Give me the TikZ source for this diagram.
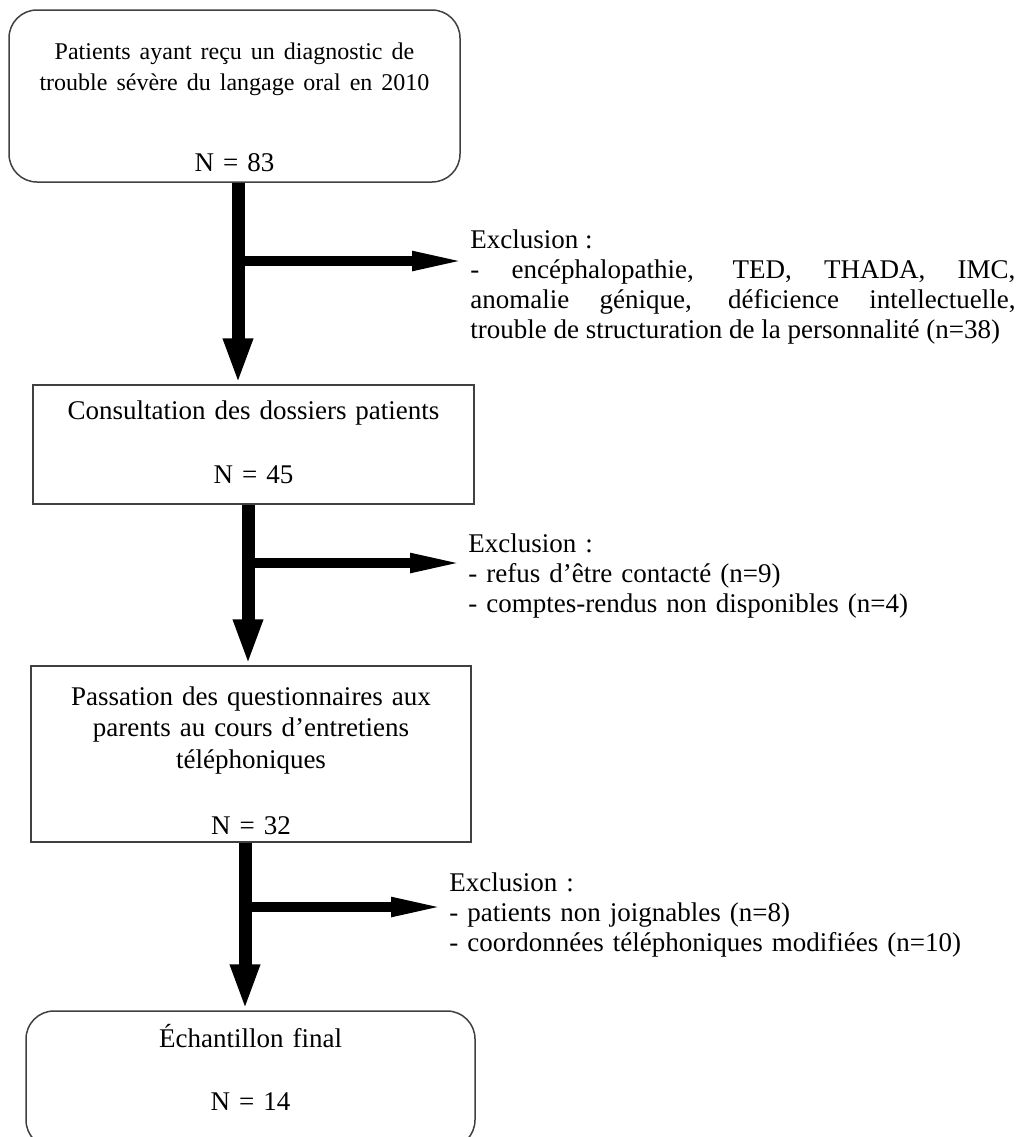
\documentclass[tikz,border=0pt]{standalone}
\usepackage{fontspec}
\setmainfont{Liberation Serif}
\usetikzlibrary{arrows.meta}

\begin{document}
\begin{tikzpicture}[x=0.5pt, y=-0.5pt,
    every node/.style={inner sep=0pt, font=\fontsize{13.5}{15.75}\selectfont},
    stagebox/.style={draw=black!75, line width=0.75pt, align=center, anchor=base},
    roundstage/.style={stagebox, rounded corners=14pt},
    exclnote/.style={anchor=base west, text width=272.5pt, font=\fontsize{13.5}{15}\selectfont},
    downflow/.style={line width=6.5pt, -{Triangle[length=23pt, width=13.5pt]}},
    sideflow/.style={line width=5pt, -{Triangle[length=29pt, width=8.5pt]}}]
    \useasboundingbox (0,0) rectangle (1020,1137);
    \node[roundstage, text width=225.5pt, text height=24.5pt, text depth=61.5pt] (patients) at (234.5,59)
        {{\fontsize{12}{15.75}\selectfont Patients ayant reçu un diagnostic de\\trouble sévère du langage oral en 2010}\\[24.75pt]N = 83};
    \node[stagebox, text width=220.5pt, text height=17pt, text depth=42.5pt] (consult) at (253.5,419)
        {Consultation des dossiers patients\\[16.25pt]N = 45};
    \node[stagebox, text width=220pt, text height=19.5pt, text depth=68.5pt] (phone) at (251,705)
        {Passation des questionnaires aux\\parents au cours d’entretiens\\téléphoniques\\[17.25pt]N = 32};
    \node[roundstage, text width=224.5pt, text height=18pt, text depth=50.5pt] (final) at (250.5,1047)
        {Échantillon final\\[15.75pt]N = 14};
    \node[exclnote, align=justify] (excl1) at (470,248)
        {\tolerance=10000\parfillskip=0pt Exclusion :\\- encéphalopathie, TED, THADA, IMC,\linebreak anomalie génique, déficience intellectuelle,\linebreak trouble de structuration de la personnalité (n=38)};
    \node[exclnote, align=left] (excl2) at (468,552)
        {Exclusion :\\- refus d’être contacté (n=9)\\- comptes-rendus non disponibles (n=4)};
    \node[exclnote, align=left] (excl3) at (449,891)
        {Exclusion :\\- patients non joignables (n=8)\\- coordonnées téléphoniques modifiées (n=10)};
    \coordinate (fork1) at (238,261);
    \coordinate (fork2) at (248,563);
    \coordinate (fork3) at (245,907);
    \draw[downflow] (patients.south -| fork1) -- (consult.north -| fork1);
    \draw[sideflow] (fork1) -- (fork1 -| excl1.west);
    \draw[downflow] (consult.south -| fork2) -- (phone.north -| fork2);
    \draw[sideflow] (fork2) -- (fork2 -| excl2.west);
    \draw[downflow] (phone.south -| fork3) -- (final.north -| fork3);
    \draw[sideflow] (fork3) -- (fork3 -| excl3.west);
\end{tikzpicture}
\end{document}
